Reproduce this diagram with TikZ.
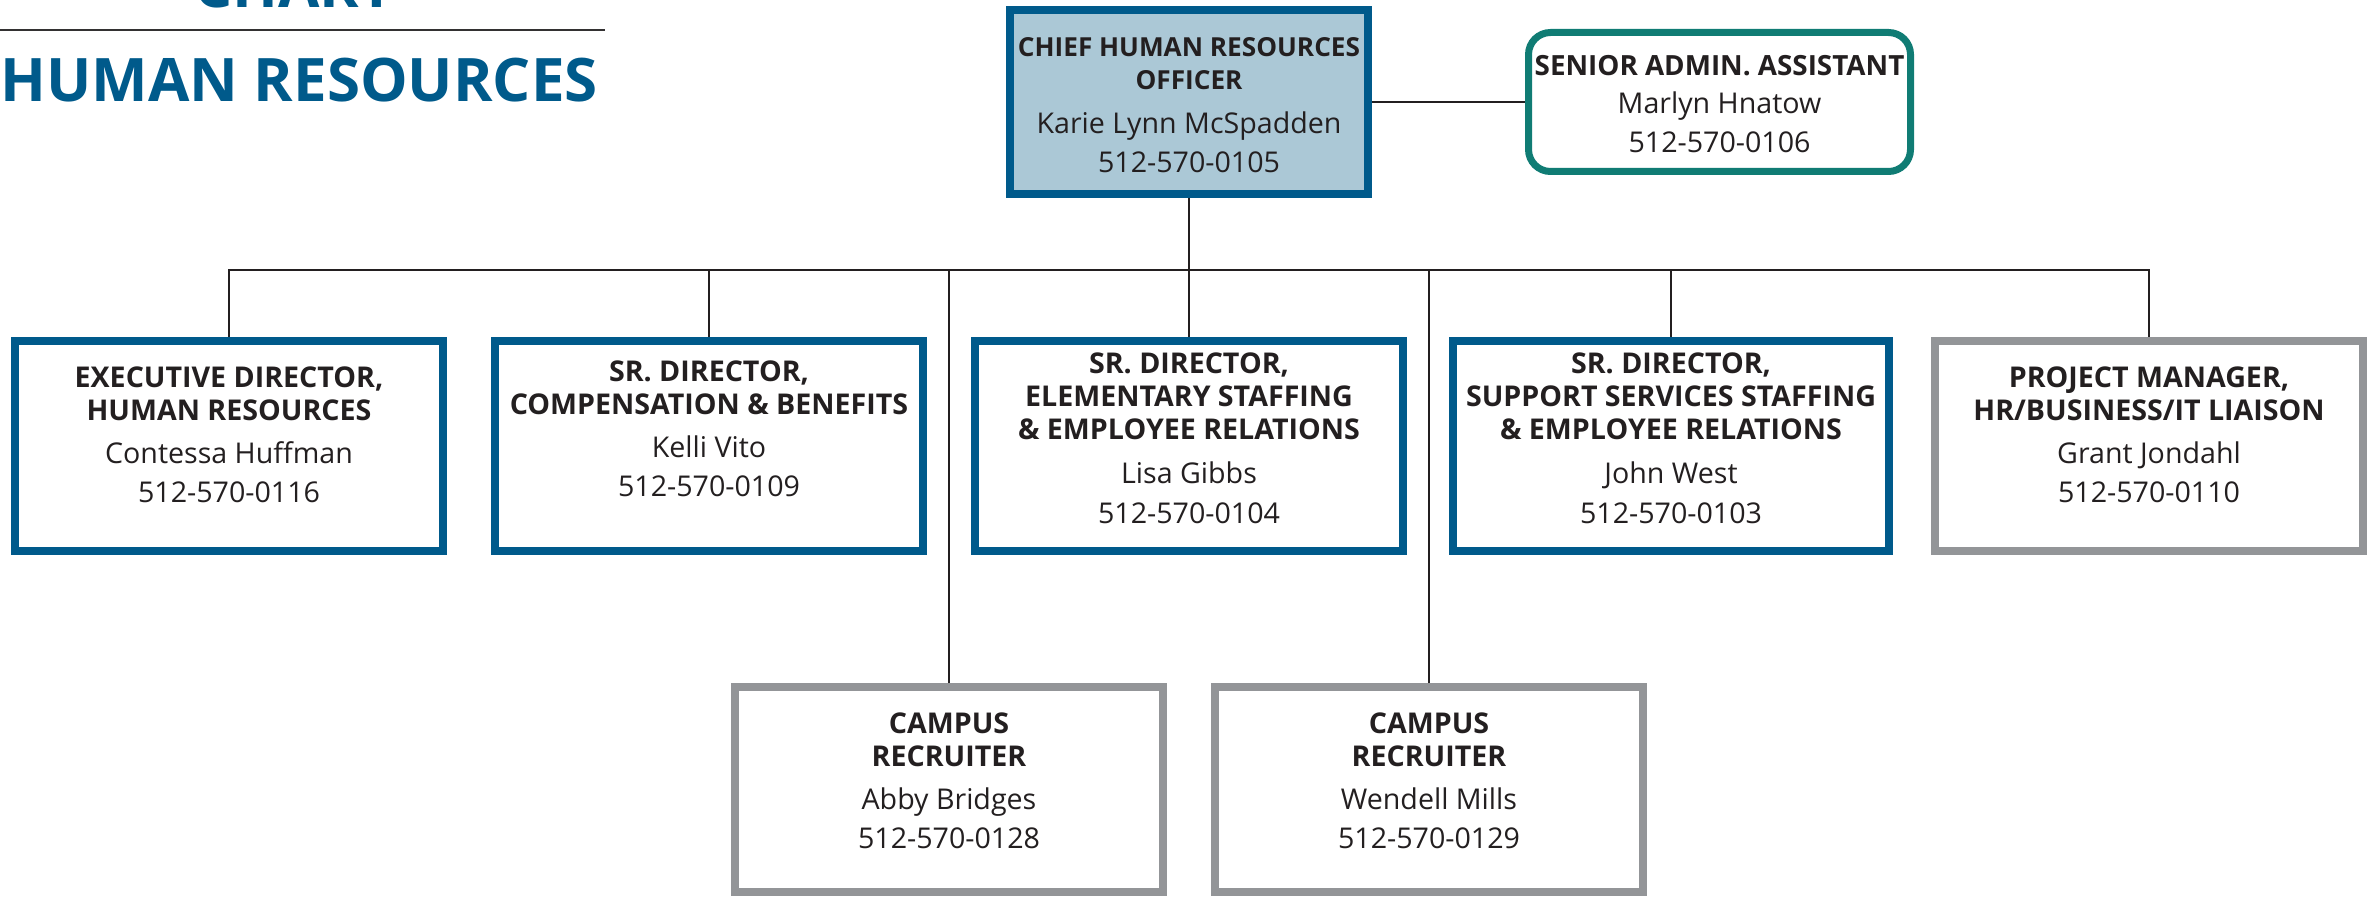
\documentclass[tikz,border=0pt]{standalone}
\usepackage{fontspec}
\setmainfont{Open Sans}
\definecolor{hrblue}{RGB}{0,90,139}
\definecolor{hrlight}{RGB}{171,200,214}
\definecolor{hrteal}{RGB}{16,124,116}
\definecolor{hrgray}{RGB}{147,149,152}
\definecolor{ink}{RGB}{35,31,32}
\definecolor{rulegray}{RGB}{51,49,50}
\newcommand{\smallttl}[2]{{\fontsize{#1}{16.5}\selectfont\bfseries #2}}
\begin{document}
\begin{tikzpicture}[x=0.5pt,y=-0.5pt,
  box/.style={draw, line width=4pt, inner sep=0pt, minimum width=214pt, minimum height=105pt, fill=white},
  bluebox/.style={box, draw=hrblue},
  graybox/.style={box, draw=hrgray},
  lowbox/.style={graybox, minimum height=102.5pt},
  chrobox/.style={box, draw=hrblue, fill=hrlight, minimum width=179pt, minimum height=92pt},
  adminbox/.style={box, draw=hrteal, line width=3.5pt, rounded corners=11pt, minimum width=191pt, minimum height=69.5pt},
  txt/.style={anchor=north, inner sep=0pt, align=center, text=ink, font=\fontsize{14.3}{16.5}\selectfont},
  title/.style={inner sep=0pt, text=hrblue, font=\fontsize{30}{36}\selectfont\bfseries},
  conn/.style={draw=ink, line width=1pt}]
\useasboundingbox (0,0) rectangle (2371,898);

% title area
\node[title, anchor=base] (chart) at (294,8) {CHART};
\coordinate (r0) at (0,30);
\coordinate (r1) at (605,30);
\draw[line width=1.2pt, draw=rulegray] (r0) -- (r1);
\node[title, anchor=base west] (hr) at (0,102) {HUMAN RESOURCES};

% boxes
\node[chrobox] (chro) at (1189,102) {};
\node[adminbox] (admin) at (1719.5,102) {};
\node[bluebox] (b1) at (229,446) {};
\node[bluebox] (b2) at (709,446) {};
\node[bluebox] (b3) at (1189,446) {};
\node[bluebox, minimum width=218pt] (b4) at (1671,446) {};
\node[graybox] (b5) at (2149,446) {};
\node[lowbox] (b6) at (949,789.5) {};
\node[lowbox] (b7) at (1429,789.5) {};

% connectors
\coordinate (bus) at (0,270);
\draw[conn] (chro.east) -- (admin.west);
\draw[conn] (chro.south) -- (chro.south |- bus);
\draw[conn] (b1.north) |- (b5.north |- bus) -- (b5.north);
\draw[conn] (b2.north) -- (b2.north |- bus);
\draw[conn] (b3.north) -- (b3.north |- bus);
\draw[conn] (b4.north) -- (b4.north |- bus);
\draw[conn] (b6.north) -- (b6.north |- bus);
\draw[conn] (b7.north) -- (b7.north |- bus);

% texts
\node[txt] (chrot) at (1189,32) {\rule{0pt}{12pt}\smallttl{13.1}{CHIEF HUMAN RESOURCES}\\\smallttl{13.1}{OFFICER}\\[5.5pt]Karie Lynn McSpadden\\[3pt]512-570-0105};
\node[txt] (admint) at (1719.5,51) {\rule{0pt}{12pt}\smallttl{13.9}{SENIOR ADMIN. ASSISTANT}\\[2.5pt]Marlyn Hnatow\\[3pt]512-570-0106};
\node[txt] (b1t) at (229,363) {\rule{0pt}{12pt}\textbf{EXECUTIVE DIRECTOR,}\\\textbf{HUMAN RESOURCES}\\[5pt]Contessa Huffman\\[3pt]512-570-0116};
\node[txt] (b2t) at (709,357) {\rule{0pt}{12pt}\textbf{SR. DIRECTOR,}\\\textbf{COMPENSATION \& BENEFITS}\\[5pt]Kelli Vito\\[3pt]512-570-0109};
\node[txt] (b3t) at (1189,349) {\rule{0pt}{12pt}\textbf{SR. DIRECTOR,}\\\textbf{ELEMENTARY STAFFING}\\\textbf{\& EMPLOYEE RELATIONS}\\[5.5pt]Lisa Gibbs\\[3.5pt]512-570-0104};
\node[txt] (b4t) at (1671,349) {\rule{0pt}{12pt}\textbf{SR. DIRECTOR,}\\\textbf{SUPPORT SERVICES STAFFING}\\\textbf{\& EMPLOYEE RELATIONS}\\[5.5pt]John West\\[3.5pt]512-570-0103};
\node[txt] (b5t) at (2149,363) {\rule{0pt}{12pt}\textbf{PROJECT MANAGER,}\\\textbf{HR/BUSINESS/IT LIAISON}\\[5pt]Grant Jondahl\\[3pt]512-570-0110};
\node[txt] (b6t) at (949,709) {\rule{0pt}{12pt}\textbf{CAMPUS}\\\textbf{RECRUITER}\\[5pt]Abby Bridges\\[3pt]512-570-0128};
\node[txt] (b7t) at (1429,709) {\rule{0pt}{12pt}\textbf{CAMPUS}\\\textbf{RECRUITER}\\[5pt]Wendell Mills\\[3pt]512-570-0129};
\end{tikzpicture}
\end{document}
